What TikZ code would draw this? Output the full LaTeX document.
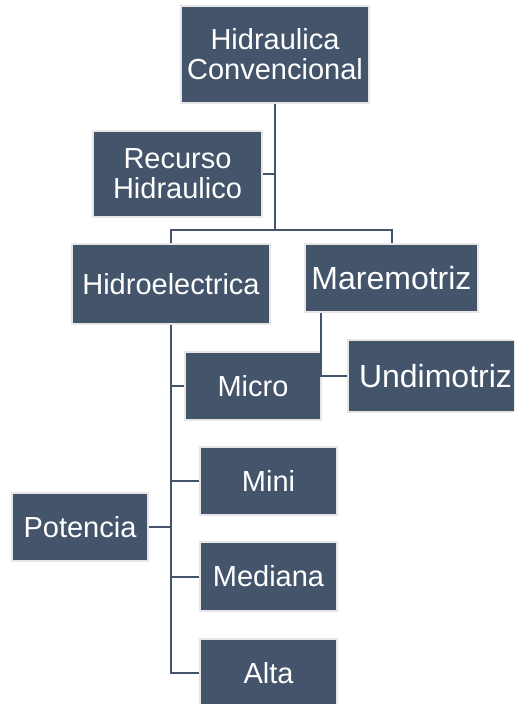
\documentclass[tikz,border=0pt]{standalone}
\usepackage{fontspec}
\setmainfont{Liberation Sans}
\usetikzlibrary{positioning}
\definecolor{slate}{HTML}{44546A}
\definecolor{rim}{HTML}{E7E6E6}
\begin{document}
\begin{tikzpicture}[x=1pt,y=-1pt,
  box/.style={draw=rim, line width=2pt, fill=slate, text=white, inner sep=0pt,
    align=center, font=\fontsize{29}{30}\selectfont},
  big/.style={font=\fontsize{32}{34}\selectfont},
  link/.style={draw=slate, line width=2pt}]
\clip (0,0) rectangle (514,704);
\node[box, minimum width=188, minimum height=97] (hc) at (275,54.5) {Hidraulica\\Convencional};
\node[box, minimum width=169, minimum height=86] (rh) at (177.5,174) {Recurso\\Hidraulico};
\node[box, minimum width=198, minimum height=80] (he) at (171,284) {Hidroelectrica};
\node[box, big, minimum width=173, minimum height=68] (mm) at (391.5,278) {Maremotriz};
\node[box, big, minimum width=175, minimum height=72] (ud) at (435.5,376) {Undimotriz};
\node[box, minimum width=136, minimum height=68] (mi) at (253,386) {Micro};
\node[box, minimum width=137, minimum height=68] (mn) at (268.5,481) {Mini};
\node[box, minimum width=136, minimum height=68] (po) at (80,527) {Potencia};
\node[box, minimum width=137, minimum height=69] (md) at (268.5,576.5) {Mediana};
\node[box, minimum width=137, minimum height=68] (al) at (268.5,673) {Alta};
\coordinate (bus) at (275,230);
% trunk from the top box
\draw[link] (hc) -- (bus);
\draw[link] (rh.east) -- (rh.east -| bus);
\draw[link] (he.north) |- (bus) -| (mm.north);
% maremotriz branch
\draw[link] ([xshift=17pt]mm.south west) |- (ud.west);
% hidroelectrica branch
\draw[link] (he.south) |- (al.west);
\draw[link] (mi.west) -- (mi.west -| he.south);
\draw[link] (mn.west) -- (mn.west -| he.south);
\draw[link] (md.west) -- (md.west -| he.south);
\draw[link] (po.east) -- (po.east -| he.south);
\end{tikzpicture}
\end{document}
